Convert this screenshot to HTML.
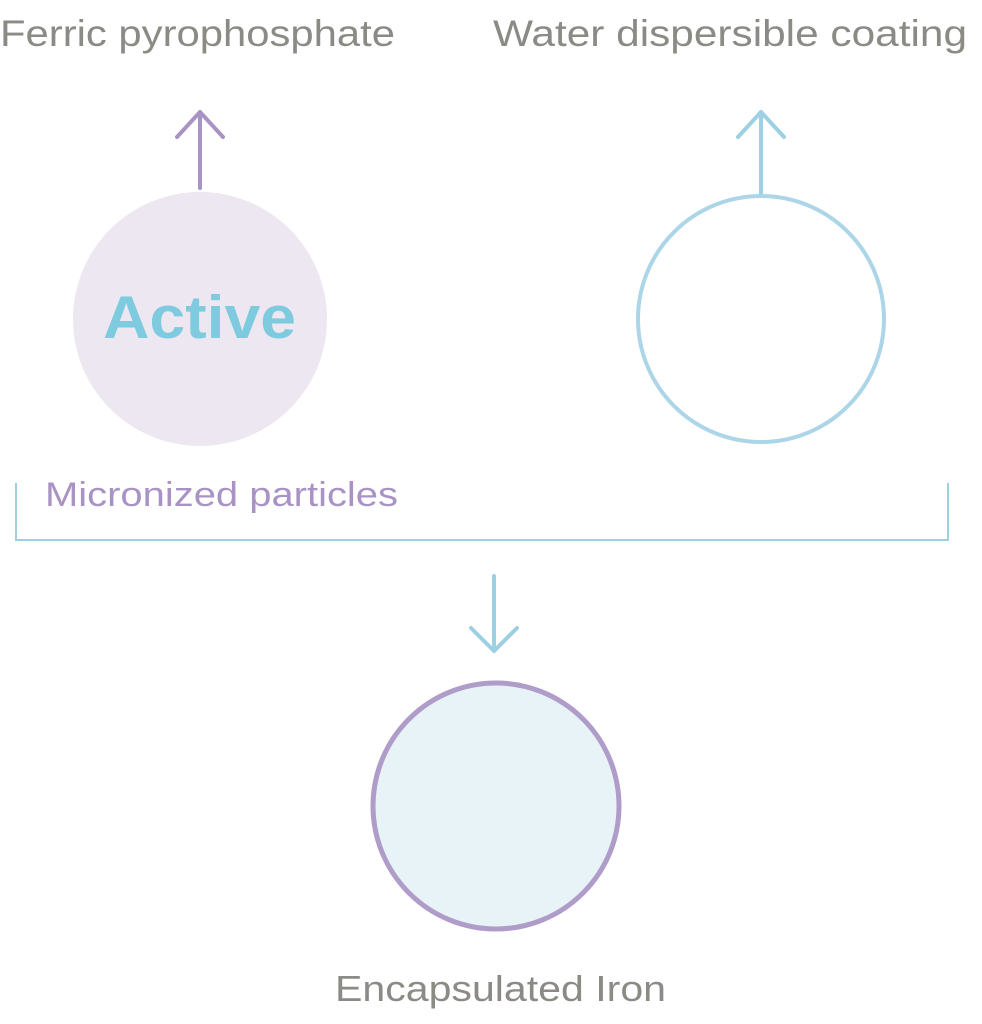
<!DOCTYPE html>
<html><head><meta charset="utf-8"><style>
html,body{margin:0;padding:0;background:#fff;width:982px;height:1024px;overflow:hidden}
svg{display:block}
text{font-family:"Liberation Sans","DejaVu Sans",sans-serif}
</style></head><body>
<svg width="982" height="1024" viewBox="0 0 982 1024">
<text x="0" y="46" font-size="37" fill="#8b8a85" textLength="395" lengthAdjust="spacingAndGlyphs">Ferric pyrophosphate</text>
<text x="493" y="46" font-size="37" fill="#8b8a85" textLength="474" lengthAdjust="spacingAndGlyphs">Water dispersible coating</text>
<g fill="none" stroke="#a993c4" stroke-width="4" stroke-linecap="round" stroke-linejoin="round">
<line x1="200" y1="112" x2="200" y2="188"/><polyline points="177,137 200,112 223,137"/>
</g>
<circle cx="200" cy="319" r="127" fill="#ede7f1"/>
<text x="103" y="338" font-size="60" font-weight="bold" fill="#7ecbe0" textLength="193" lengthAdjust="spacingAndGlyphs">Active</text>
<g fill="none" stroke="#9dd0e3" stroke-width="4" stroke-linecap="round" stroke-linejoin="round">
<line x1="761" y1="112" x2="761" y2="193"/><polyline points="738,137 761,112 784,137"/>
</g>
<circle cx="761" cy="319" r="123" fill="none" stroke="#acd6e8" stroke-width="4"/>
<text x="45" y="506" font-size="34" fill="#a993c4" textLength="353" lengthAdjust="spacingAndGlyphs">Micronized particles</text>
<polyline points="16,483 16,540 948,540 948,483" fill="none" stroke="#9ed0df" stroke-width="2"/>
<g fill="none" stroke="#9dd0e3" stroke-width="4" stroke-linecap="round" stroke-linejoin="round">
<line x1="494" y1="576" x2="494" y2="651"/><polyline points="471,628 494,651 517,628"/>
</g>
<circle cx="496" cy="806" r="123" fill="#e8f3f8" stroke="#b09cc8" stroke-width="5"/>
<text x="335" y="1001" font-size="36" fill="#8b8a85" textLength="331" lengthAdjust="spacingAndGlyphs">Encapsulated Iron</text>
</svg>
</body></html>
